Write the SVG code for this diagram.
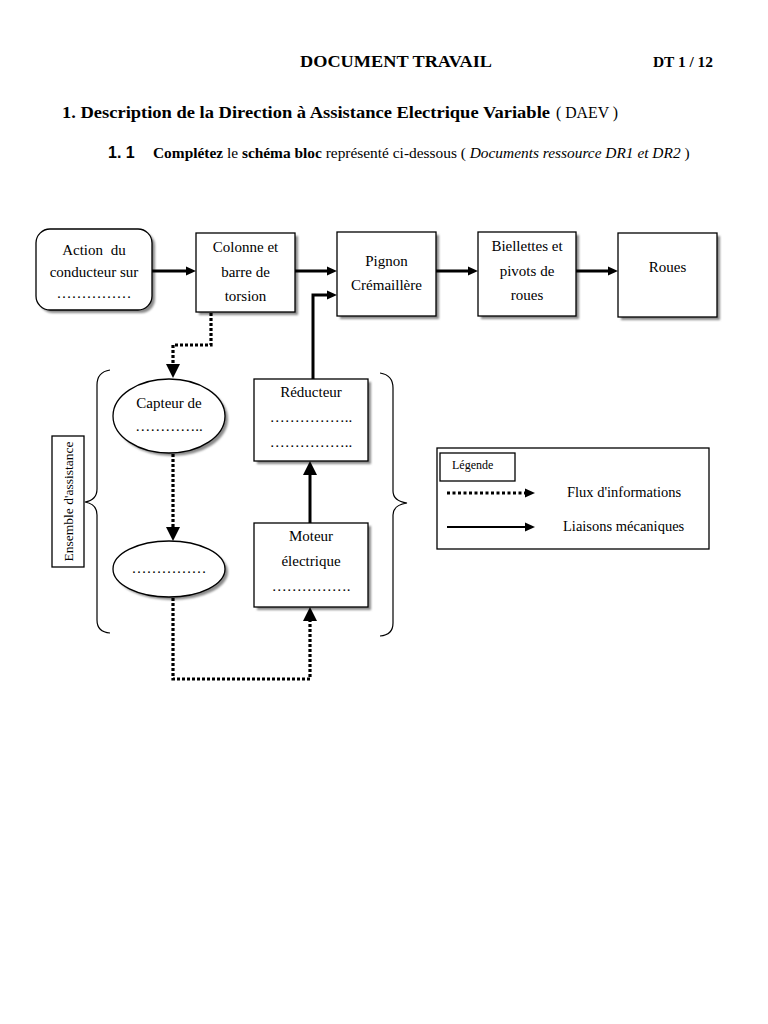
<svg xmlns="http://www.w3.org/2000/svg" width="768" height="1024" viewBox="0 0 768 1024">
<style>
text{font-family:"Liberation Serif","Times New Roman",serif;fill:#000}
.t{font-size:15px;text-anchor:middle}
.b{font-weight:bold}
.i{font-style:italic}
.box{fill:#fff;stroke:#000;stroke-width:1.3}
.sh{fill:#8a8a8a;filter:url(#blur)}
.mech{stroke:#000;stroke-width:3;fill:none}
.info{stroke:#000;stroke-width:3.2;fill:none;stroke-dasharray:3 2}
</style>
<defs>
<filter id="blur" x="-10%" y="-10%" width="120%" height="120%"><feGaussianBlur stdDeviation="0.8"/></filter>
<marker id="ah" markerUnits="userSpaceOnUse" markerWidth="11" markerHeight="10" refX="3" refY="5" orient="auto"><path d="M0,0.5 L10,5 L0,9.5 z" fill="#000"/></marker>
<marker id="ahL" markerUnits="userSpaceOnUse" markerWidth="15" markerHeight="15" refX="4" refY="7" orient="auto"><path d="M0,0 L14,7 L0,14 z" fill="#000"/></marker>
</defs>
<rect width="768" height="1024" fill="#fff"/>

<g id="header">
<text x="300" y="67" class="b" font-size="16.5" textLength="192" lengthAdjust="spacingAndGlyphs">DOCUMENT TRAVAIL</text>
<text x="653" y="67" class="b" font-size="15" textLength="60" lengthAdjust="spacingAndGlyphs">DT 1 / 12</text>
<text x="62" y="118" class="b" font-size="17" textLength="488" lengthAdjust="spacingAndGlyphs">1.  Description de la Direction à Assistance Electrique Variable</text>
<text x="556" y="118" font-size="17" textLength="62" lengthAdjust="spacingAndGlyphs">( DAEV )</text>
<text x="108" y="158" class="b" font-size="16" style="font-family:'Liberation Sans',Arial,sans-serif">1. 1</text>
<text x="153" y="158" font-size="15.4"><tspan class="b">Complétez</tspan> le <tspan class="b">schéma bloc</tspan> représenté ci-dessous ( <tspan class="i">Documents ressource DR1 et DR2</tspan> )</text>
</g>

<g id="action">
<rect x="39" y="232" width="116" height="81" rx="14" class="sh"/>
<rect x="36" y="229" width="116" height="81" rx="14" class="box"/>
<text x="94" y="255" class="t" word-spacing="4">Action du</text>
<text x="94" y="277" class="t">conducteur sur</text>
<text x="94" y="298" class="t">……………</text>
</g>

<g id="colonne">
<rect x="199" y="236" width="99" height="79" class="sh"/>
<rect x="196" y="233" width="99" height="79" class="box"/>
<text x="245.5" y="252" class="t">Colonne et</text>
<text x="245.5" y="277" class="t">barre de</text>
<text x="245.5" y="301" class="t">torsion</text>
</g>

<g id="pignon">
<rect x="340" y="235" width="99" height="84" class="sh"/>
<rect x="337" y="232" width="99" height="84" class="box"/>
<text x="386.5" y="266" class="t">Pignon</text>
<text x="386.5" y="290" class="t">Crémaillère</text>
</g>

<g id="biellettes">
<rect x="481" y="235" width="98" height="84" class="sh"/>
<rect x="478" y="232" width="98" height="84" class="box"/>
<text x="527" y="251" class="t">Biellettes et</text>
<text x="527" y="276" class="t">pivots de</text>
<text x="527" y="300" class="t">roues</text>
</g>

<g id="roues">
<rect x="621" y="236" width="99" height="84" class="sh"/>
<rect x="618" y="233" width="99" height="84" class="box"/>
<text x="667.5" y="272" class="t">Roues</text>
</g>

<g id="capteur">
<ellipse cx="172" cy="419" rx="56" ry="37" class="sh"/>
<ellipse cx="169" cy="416" rx="56" ry="37" class="box"/>
<text x="169" y="408" class="t">Capteur de</text>
<text x="169" y="431" class="t">…………..</text>
</g>

<g id="calculateur">
<ellipse cx="172" cy="572" rx="56" ry="28" class="sh"/>
<ellipse cx="169" cy="569" rx="56" ry="28" class="box"/>
<text x="169" y="573" class="t">……………</text>
</g>

<g id="reducteur">
<rect x="257" y="382" width="114" height="82" class="sh"/>
<rect x="254" y="379" width="114" height="82" class="box"/>
<text x="311" y="397" class="t">Réducteur</text>
<text x="311" y="422" class="t">……………..</text>
<text x="311" y="447" class="t">……………..</text>
</g>

<g id="moteur">
<rect x="257" y="526" width="114" height="84" class="sh"/>
<rect x="254" y="523" width="114" height="84" class="box"/>
<text x="311" y="541" class="t">Moteur</text>
<text x="311" y="566" class="t">électrique</text>
<text x="311" y="591" class="t">…………….</text>
</g>

<g id="ensemble">
<path d="M110,370 Q97,372 97,385 L97,489 Q97,500 85,502 Q97,504 97,515 L97,620 Q97,632 110,633" fill="none" stroke="#000" stroke-width="1.2"/>
<path d="M380,373 Q393,375 393,388 L393,491 Q393,501 407,503 Q393,505 393,515 L393,623 Q393,635 380,636" fill="none" stroke="#000" stroke-width="1.2"/>
<rect x="52" y="436" width="32" height="131" class="box"/>
<text x="0" y="0" font-size="13.5" text-anchor="middle" transform="translate(73,501.5) rotate(-90)">Ensemble d'assistance</text>
</g>

<g id="legende">
<rect x="437" y="448" width="272" height="101" class="box"/>
<rect x="440" y="453" width="75" height="28" class="box"/>
<text x="452" y="469" font-size="12">Légende</text>
<path d="M447,493 H528" stroke="#000" stroke-width="3" stroke-dasharray="3 2.5" marker-end="url(#ah)"/>
<text x="567" y="497" font-size="14.5">Flux d'informations</text>
<path d="M447,527 H528" stroke="#000" stroke-width="2" marker-end="url(#ah)"/>
<text x="563" y="531" font-size="14.5">Liaisons mécaniques</text>
</g>

<g id="connectors">
<path class="mech" d="M152,271 H189" marker-end="url(#ah)"/>
<path class="mech" d="M295,271 H330" marker-end="url(#ah)"/>
<path class="mech" d="M436,271 H471" marker-end="url(#ah)"/>
<path class="mech" d="M576,271 H611" marker-end="url(#ah)"/>
<path class="mech" d="M313,379 V295 H330" marker-end="url(#ah)"/>
<path class="mech" d="M310,523 V471" marker-end="url(#ahL)"/>
<path class="info" d="M211,313 V345 H173 V368" marker-end="url(#ahL)"/>
<path class="info" d="M173,454 V531" marker-end="url(#ahL)"/>
<path class="info" d="M173,598 V679 H310 V617" marker-end="url(#ahL)"/>
</g>
</svg>
